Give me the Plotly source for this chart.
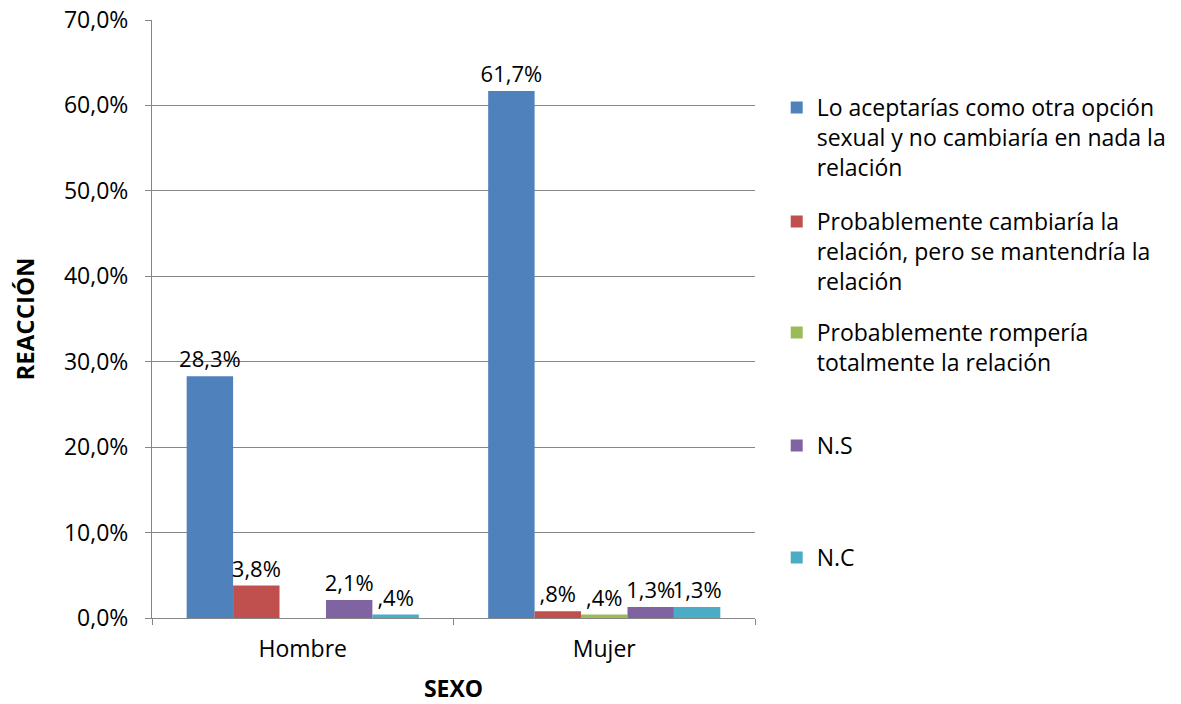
import plotly.graph_objects as go

sexo = ["Hombre", "Mujer"]
series_names = [
    "Lo aceptarías como otra opción<br>sexual y no cambiaría en nada la<br>relación",
    "Probablemente cambiaría la<br>relación, pero se mantendría la<br>relación",
    "Probablemente rompería<br>totalmente la relación",
    "N.S",
    "N.C",
]
colors = ["#4F81BD", "#C0504D", "#9BBB59", "#8064A2", "#4BACC6"]

# porcentaje por sexo (Hombre, Mujer)
aceptarias = [28.3, 61.7]
cambiaria = [3.8, 0.8]
romperia = [0.0, 0.4]
ns = [2.1, 1.3]
nc = [0.4, 1.3]
values = [aceptarias, cambiaria, romperia, ns, nc]

labels = [
    ["28,3%", "61,7%"],
    ["3,8%", ",8%"],
    ["", ",4%"],
    ["2,1%", "1,3%"],
    [",4%", "1,3%"],
]

font = "Open Sans"

# each legend entry sits in its own legend box so the entries are evenly spaced (Excel style)
legend_y = [0.8896, 0.699, 0.5134, 0.3244, 0.1371]
legend_ids = ["legend", "legend2", "legend3", "legend4", "legend5"]

fig = go.Figure()
for i in range(len(values)):
    fig.add_trace(go.Bar(
        x=sexo, y=values[i], name=series_names[i],
        marker=dict(color=colors[i], line=dict(width=0)),
        text=labels[i], textposition="outside", cliponaxis=False,
        constraintext="none",
        textfont=dict(size=22, color="black", family=font),
        legend=legend_ids[i], showlegend=True,
    ))

# page body has an 8px margin, so the figure is a bit smaller than the window
fig.update_layout(
    width=1173, height=696,
    template="plotly_white",
    plot_bgcolor="white", paper_bgcolor="white",
    separators=",.",
    showlegend=True,
    barmode="group", bargap=0.23, bargroupgap=0,
    margin=dict(l=144, r=426, t=12, b=86, autoexpand=False),
    font=dict(family=font, size=22, color="black"),
)
for i, lid in enumerate(legend_ids):
    fig.update_layout({lid: dict(x=1.036, y=legend_y[i], xanchor="left", yanchor="top",
                                 font=dict(size=23, family=font), itemwidth=30,
                                 valign="top", bgcolor="rgba(0,0,0,0)")})

fig.update_yaxes(
    range=[0, 70], dtick=10, tickformat=".1f", ticksuffix="%",
    showgrid=True, gridcolor="#868686", gridwidth=1,
    showline=True, linecolor="#868686", linewidth=1,
    ticks="outside", ticklen=6, tickcolor="#868686",
    zeroline=False, automargin=False, ticklabelstandoff=12,
    ticklabeloverflow="allow",
    tickfont=dict(size=23, family=font),
    title=dict(text="<b>REACCIÓN</b>", font=dict(size=24, family=font), standoff=30),
)
fig.update_xaxes(
    showline=True, linecolor="#868686", linewidth=1,
    ticks="outside", tickson="boundaries", ticklen=6, tickcolor="#868686",
    automargin=False, ticklabelstandoff=10,
    tickfont=dict(size=23, family=font),
    title=dict(text="<b>SEXO</b>", font=dict(size=23, family=font), standoff=25),
)

fig.write_html("out.html")
